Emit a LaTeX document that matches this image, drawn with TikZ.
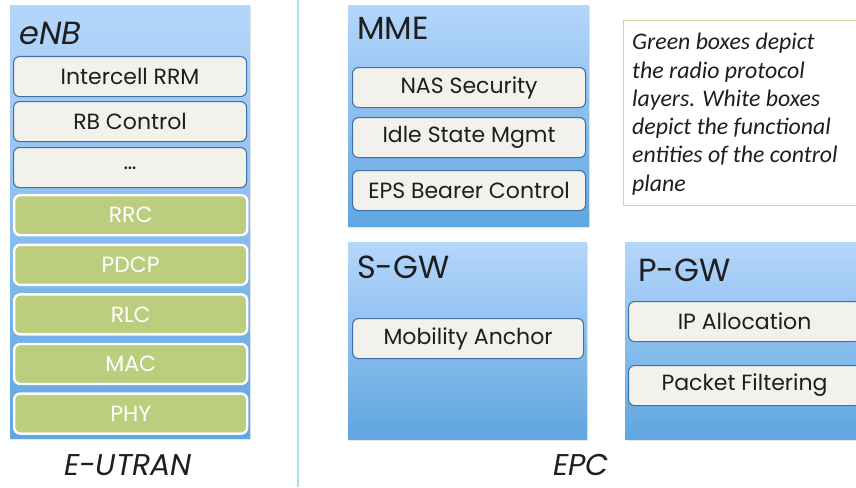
\documentclass[tikz,border=0pt]{standalone}
\usepackage{fontspec}
\setmainfont{Carlito}
\newfontfamily\gothic{Poppins}
\usetikzlibrary{positioning}
\usetikzlibrary{shadows}

\definecolor{grpTop}{RGB}{181,214,251}
\definecolor{grpBot}{RGB}{96,166,224}
\definecolor{funcFill}{RGB}{242,241,236}
\definecolor{funcLine}{RGB}{62,114,166}
\definecolor{layerFill}{RGB}{188,205,126}
\definecolor{sepLine}{RGB}{170,220,240}
\definecolor{noteLine}{RGB}{200,216,160}
\definecolor{inkText}{RGB}{30,30,30}

\begin{document}
\begin{tikzpicture}[x=1pt,y=1pt,yscale=-1,xscale=1,
  group/.style={draw=none, top color=grpTop, bottom color=grpBot, anchor=north west, inner sep=0pt,
    drop shadow={opacity=0.18, shadow xshift=1pt, shadow yshift=-1.5pt}},
  grptitle/.style={anchor=west, inner sep=0pt, text=inkText, font=\gothic\fontsize{32}{36}\selectfont},
  func/.style={draw=funcLine, line width=1.1pt, fill=funcFill, rounded corners=6pt, anchor=north west,
    minimum height=40pt, inner sep=0pt, text=inkText, font=\gothic\fontsize{22}{25}\selectfont},
  layer/.style={draw=white, line width=2.4pt, fill=layerFill, text=white, rounded corners=6pt, anchor=north west,
    minimum width=233pt, minimum height=40pt, inner sep=0pt, font=\gothic\fontsize{22}{25}\selectfont},
  caption/.style={anchor=base, inner sep=0pt, text=inkText, font=\gothic\itshape\fontsize{30}{33}\selectfont}]
\useasboundingbox (0,0) rectangle (856,487);
\clip (0,0) rectangle (856,487);

%Straight Lines (separator)
\draw [color=sepLine, line width=1.5pt] (298,0) -- (298,487);

% eNB stack
\node [group, minimum width=240pt, minimum height=433pt] (enb) at (10,5) {};
\node [grptitle] (enbT) at (19,33) {\itshape eNB};
\node [func, minimum width=233pt] (rrm) at (13,56) {Intercell RRM};
\node [func, minimum width=233pt] (rbc) at (13,101) {RB Control};
\node [func, minimum width=233pt] (dots) at (13,147) {\raisebox{-5pt}{\dots}};
\foreach \lay [count=\i from 0] in {RRC,PDCP,RLC,MAC,PHY}
  \node [layer] (\lay) at (13,194+49.6*\i) {\lay};

% MME
\node [group, minimum width=241pt, minimum height=221pt] (mme) at (348,5) {};
\node [grptitle] (mmeT) at (357,28) {MME};
\node [func, minimum width=233pt] (nas) at (352,67) {NAS Security};
\node [func, minimum width=233pt] (idle) at (352,117) {Idle State Mgmt};
\node [func, minimum width=233pt] (eps) at (352,170) {EPS Bearer Control};

% S-GW
\node [group, minimum width=239pt, minimum height=197pt] (sgw) at (348,242) {};
\node [grptitle] (sgwT) at (357,267) {S-GW};
\node [func, minimum width=231pt] (anchor) at (352,318) {Mobility Anchor};

% P-GW
\node [group, minimum width=260pt, minimum height=197pt] (pgw) at (625,242) {};
\node [grptitle] (pgwT) at (638,270) {P-GW};
\node [func, minimum width=232pt] (ipalloc) at (628,301) {IP Allocation};
\node [func, minimum width=232pt] (filter) at (628,365) {Packet Filtering};

% Note box
\node [draw=noteLine, line width=1pt, fill=white, anchor=north west, minimum width=260pt, minimum height=185pt, inner sep=0pt] (note) at (623,20) {};
\node [anchor=north west, inner sep=0pt, align=left, text=inkText, font=\itshape\fontsize{23.8}{28.3}\selectfont]
  (noteT) at ([shift={(9,13)}]note.north west)
  {Green boxes depict\\the radio protocol\\layers. White boxes\\depict the functional\\entities of the control\\plane};

% Text Node
\node [caption] (eutran) at (128,475) {E-UTRAN};
% Text Node
\node [caption] (epc) at (581,475) {EPC};

\end{tikzpicture}
\end{document}
